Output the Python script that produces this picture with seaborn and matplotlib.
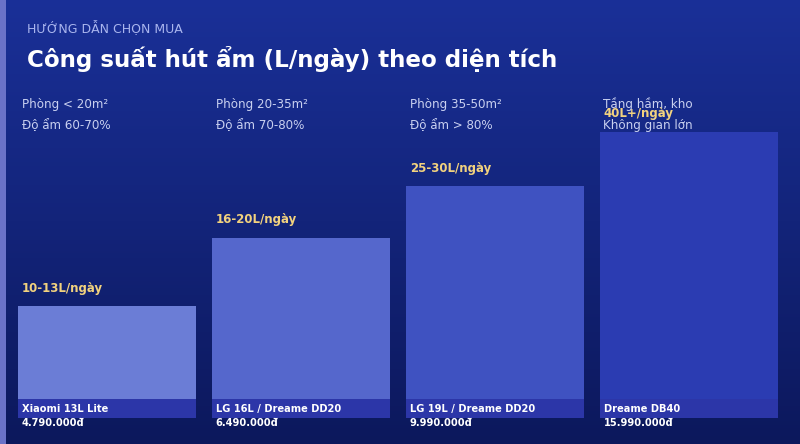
import matplotlib
matplotlib.use("Agg")
import matplotlib.pyplot as plt
import numpy as np
import pandas as pd
import seaborn as sns

# ---- data ----
rooms = ["Phòng < 20m²", "Phòng 20-35m²", "Phòng 35-50m²", "Tầng hầm, kho"]
humidity = ["Độ ẩm 60-70%", "Độ ẩm 70-80%", "Độ ẩm > 80%", "Không gian lớn"]
capacity = ["10-13L/ngày", "16-20L/ngày", "25-30L/ngày", "40L+/ngày"]
bar_height = [39, 63, 81, 100]          # relative bar height (% of largest)
models = ["Xiaomi 13L Lite", "LG 16L / Dreame DD20", "LG 19L / Dreame DD20", "Dreame DB40"]
prices = ["4.790.000đ", "6.490.000đ", "9.990.000đ", "15.990.000đ"]
bar_colors = ["#6b7dd6", "#5567cc", "#3f52c1", "#2b3cb2"]

df = pd.DataFrame({"room": rooms, "h": bar_height})

sns.set_theme(style="white")
plt.rcParams["font.family"] = ["DejaVu Sans"]

fig = plt.figure(figsize=(8, 4.44), dpi=100)

# background gradient
bg = fig.add_axes([0, 0, 1, 1])
grad = np.linspace(0, 1, 256).reshape(-1, 1)
top = np.array([26, 48, 152]) / 255
bot = np.array([12, 24, 92]) / 255
img = top + (bot - top) * grad[..., None]
bg.imshow(img, aspect="auto", extent=[0, 1, 0, 1])
bg.add_patch(plt.Rectangle((0, 0), 6 / 800, 1, color="#6a72c8", lw=0))
bg.set_xlim(0, 1)
bg.set_ylim(0, 1)
bg.axis("off")

ax = fig.add_axes([0, 0, 1, 1])
ax.patch.set_alpha(0)
sns.barplot(data=df, x="room", y="h", hue="room", palette=bar_colors,
            width=178 / 194, legend=False, ax=ax, saturation=1, linewidth=0)
ax.set_xlim(-107 / 194, 3 + 111.5 / 194)
ax.set_ylim(-26 / 286 * 100, 418 / 286 * 100)
ax.axis("off")

strip_h = 19 / 286 * 100
for i, p in enumerate(ax.patches):
    x0 = p.get_x()
    ax.add_patch(plt.Rectangle((x0, 0), p.get_width(), strip_h,
                               color="#2c36a8", lw=0, zorder=3))
    tx = x0 + 4 / 194
    ax.text(tx, strip_h / 2, models[i], color="white", fontsize=7.1,
            fontweight="bold", va="center", ha="left", zorder=4)
    ax.text(tx, -4.5 / 286 * 100, prices[i], color="white", fontsize=7.1,
            fontweight="bold", va="center", ha="left", zorder=4)
    ax.text(tx, bar_height[i] + 18 / 286 * 100, capacity[i], color="#f2d27e",
            fontsize=8.5, fontweight="bold", va="center", ha="left", zorder=4)

# group headers
for i in range(4):
    xf = (22 + 194 * i - (1 if i == 3 else 0)) / 800
    fig.text(xf, 1 - 104.5 / 444, rooms[i], color="#c9d0f0", fontsize=8.6,
             va="center", ha="left")
    fig.text(xf, 1 - 126 / 444, humidity[i], color="#c9d0f0", fontsize=8.6,
             va="center", ha="left")

fig.text(27 / 800, 1 - 29 / 444, "HƯỚNG DẪN CHỌN MUA", color="#a9b5ee",
         fontsize=9, va="center", ha="left")
fig.text(27 / 800, 1 - 59 / 444, "Công suất hút ẩm (L/ngày) theo diện tích",
         color="white", fontsize=16.6, fontweight="bold", va="center", ha="left")

fig.savefig("out.png", dpi=100)
